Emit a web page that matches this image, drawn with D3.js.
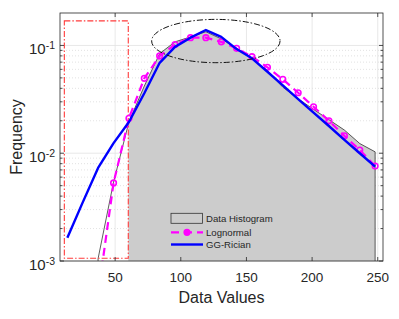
<!DOCTYPE html>
<html>
<head>
<meta charset="utf-8">
<script src="https://cdn.jsdelivr.net/npm/d3@7"></script>
<style>
  body { margin: 0; background: #fff; }
  svg { display: block; font-family: "Liberation Sans", Arial, Helvetica, sans-serif; }
</style>
</head>
<body>
<svg width="399" height="319"></svg>
<script>
// bin centres (Data Values) and frequencies
var bins = [13.6, 25.3, 37.0, 48.8, 60.5, 72.2, 83.9, 95.6, 107.4, 119.1, 130.8,
            142.5, 154.2, 166.0, 177.7, 189.4, 201.1, 212.8, 224.6, 236.3, 248.0];
var histFreq = [null, null, 0.00105, 0.0054, 0.0195, 0.042, 0.084, 0.108, 0.12, 0.134, 0.115,
                0.094, 0.075, 0.058, 0.041, 0.032, 0.0255, 0.0205, 0.0164, 0.0123, 0.0103];
var lognormFreq = [null, null, 0.00049, 0.0053, 0.0211, 0.0495, 0.080, 0.102, 0.118, 0.118, 0.108,
                   0.094, 0.0786, 0.0627, 0.0485, 0.0364, 0.027, 0.020, 0.0145, 0.0107, 0.0076];
var ggRicianFreq = [0.00164, 0.0035, 0.0073, 0.0124, 0.0195, 0.036, 0.069, 0.097, 0.118, 0.139, 0.12,
                    0.0925, 0.076, 0.057, 0.0426, 0.0318, 0.0238, 0.0179, 0.0133, 0.0100, 0.0075];

var xTicks = [50, 100, 150, 200, 250];
var yTicks = [1e-3, 1e-2, 1e-1];
var yTickExp = ["-3", "-2", "-1"];
var legendLabels = ["Data Histogram", "Lognormal", "GG-Rician"];

// annotations: red box (x range, y range) and black ellipse (x range, y range)
var boxX = [11.3, 60.0], boxY = [0.00106, 0.169];
var ellX = [77.8, 175.6], ellY = [0.0692, 0.1745];

var svg = d3.select("svg"),
    margin = {left: 60, right: 16, top: 13, bottom: 58},
    width = +svg.attr("width"),
    height = +svg.attr("height");

var x = d3.scaleLinear().domain([8, 254]).range([margin.left, width - margin.right]);
var y = d3.scaleLog().domain([1e-3, 0.2]).range([height - margin.bottom, margin.top]);

var x0 = x.range()[0], x1 = x.range()[1], yb = y.range()[0], yt = y.range()[1];
var axisColor = "#262626";

svg.append("defs").append("clipPath").attr("id", "plot")
  .append("rect").attr("x", x0).attr("y", yt).attr("width", x1 - x0).attr("height", yb - yt);
svg.append("defs").append("clipPath").attr("id", "fillclip")
  .append("rect").attr("x", x(boxX[1])).attr("y", yt).attr("width", x1 - x(boxX[1])).attr("height", yb - yt);

// minor y values
var minor = [];
[1e-3, 1e-2, 1e-1].forEach(function(d) {
  for (var m = 2; m <= 9; m++) if (m * d < 0.2) minor.push(m * d);
});

// grid
var grid = svg.append("g");
grid.selectAll(".mg").data(minor).enter().append("line")
  .attr("x1", x0).attr("x2", x1)
  .attr("y1", function(d) { return y(d); }).attr("y2", function(d) { return y(d); })
  .attr("stroke", "#cfcfcf").attr("stroke-width", 0.6).attr("stroke-dasharray", "1,2");
grid.selectAll(".gy").data(yTicks).enter().append("line")
  .attr("x1", x0).attr("x2", x1)
  .attr("y1", function(d) { return y(d); }).attr("y2", function(d) { return y(d); })
  .attr("stroke", "#e2e2e2").attr("stroke-width", 0.8);
grid.selectAll(".gx").data(xTicks).enter().append("line")
  .attr("y1", yt).attr("y2", yb)
  .attr("x1", function(d) { return x(d); }).attr("x2", function(d) { return x(d); })
  .attr("stroke", "#e2e2e2").attr("stroke-width", 0.8);

var plot = svg.append("g").attr("clip-path", "url(#plot)");

// histogram area
var histPts = bins.map(function(b, i) { return [b, histFreq[i]]; })
  .filter(function(d) { return d[1] != null; });
var area = d3.area()
  .x(function(d) { return x(d[0]); })
  .y0(yb + 5)
  .y1(function(d) { return y(d[1]); });
plot.append("path").datum(histPts)
  .attr("clip-path", "url(#fillclip)")
  .attr("d", area).attr("fill", "#cccccc");

var line = d3.line()
  .x(function(d) { return x(d[0]); })
  .y(function(d) { return y(d[1]); });

var first = histPts[0], last = histPts[histPts.length - 1];
plot.append("path")
  .attr("d", "M" + x(first[0]) + "," + (yb + 5) + "L" + line(histPts).slice(1) +
       "L" + x(last[0]) + "," + (yb + 5))
  .attr("fill", "none").attr("stroke", "#333").attr("stroke-width", 0.8);

// red dash-dot box
plot.append("rect")
  .attr("x", x(boxX[0])).attr("y", y(boxY[1]))
  .attr("width", x(boxX[1]) - x(boxX[0])).attr("height", y(boxY[0]) - y(boxY[1]))
  .attr("fill", "none").attr("stroke", "#ff3b3b").attr("stroke-width", 1.1)
  .attr("stroke-dasharray", "6,2,1.5,2");

// lognormal
var lnPts = bins.map(function(b, i) { return [b, lognormFreq[i]]; })
  .filter(function(d) { return d[1] != null; });
plot.append("path").datum(lnPts)
  .attr("d", line).attr("fill", "none")
  .attr("stroke", "#ff00ff").attr("stroke-width", 2.2).attr("stroke-dasharray", "8,5");
plot.selectAll(".ln").data(lnPts).enter().append("circle")
  .attr("cx", function(d) { return x(d[0]); })
  .attr("cy", function(d) { return y(d[1]); })
  .attr("r", 2.8)
  .attr("fill", "none").attr("stroke", "#ff00ff").attr("stroke-width", 1.6);

// GG-Rician
var ggPts = bins.map(function(b, i) { return [b, ggRicianFreq[i]]; });
plot.append("path").datum(ggPts)
  .attr("d", line).attr("fill", "none")
  .attr("stroke", "#0000ff").attr("stroke-width", 2.4).attr("stroke-linejoin", "round");

// black dash-dot ellipse
plot.append("ellipse")
  .attr("cx", (x(ellX[0]) + x(ellX[1])) / 2)
  .attr("cy", (y(ellY[0]) + y(ellY[1])) / 2)
  .attr("rx", (x(ellX[1]) - x(ellX[0])) / 2)
  .attr("ry", (y(ellY[0]) - y(ellY[1])) / 2)
  .attr("fill", "none").attr("stroke", "#111").attr("stroke-width", 1)
  .attr("stroke-dasharray", "6,2,1.5,2");

// axes box and ticks
var ax = svg.append("g").attr("stroke", axisColor).attr("stroke-width", 0.8);
ax.append("rect").attr("x", x0).attr("y", yt).attr("width", x1 - x0).attr("height", yb - yt)
  .attr("fill", "none");
xTicks.forEach(function(t) {
  ax.append("line").attr("x1", x(t)).attr("x2", x(t)).attr("y1", yb).attr("y2", yb - 4);
  ax.append("line").attr("x1", x(t)).attr("x2", x(t)).attr("y1", yt).attr("y2", yt + 4);
});
yTicks.forEach(function(t) {
  ax.append("line").attr("x1", x0).attr("x2", x0 + 4).attr("y1", y(t)).attr("y2", y(t));
  ax.append("line").attr("x1", x1).attr("x2", x1 - 4).attr("y1", y(t)).attr("y2", y(t));
});
minor.forEach(function(t) {
  ax.append("line").attr("x1", x0).attr("x2", x0 + 2.5).attr("y1", y(t)).attr("y2", y(t));
  ax.append("line").attr("x1", x1).attr("x2", x1 - 2.5).attr("y1", y(t)).attr("y2", y(t));
});

// tick labels
svg.selectAll(".xl").data(xTicks).enter().append("text")
  .attr("x", function(d) { return x(d); }).attr("y", yb + 21)
  .attr("text-anchor", "middle").attr("font-size", 13.5).attr("fill", axisColor)
  .text(function(d) { return d; });

yTicks.forEach(function(t, i) {
  var tx = svg.append("text").attr("x", x0 - 5).attr("y", y(t) + 9)
    .attr("text-anchor", "end").attr("fill", axisColor);
  tx.append("tspan").attr("font-size", 15).text("10");
  tx.append("tspan").attr("font-size", 10.5).attr("dy", -5).text(yTickExp[i]);
});

// axis titles
svg.append("text").attr("x", (x0 + x1) / 2).attr("y", 303)
  .attr("text-anchor", "middle").attr("font-size", 16).attr("fill", axisColor)
  .text("Data Values");
svg.append("text")
  .attr("transform", "translate(22," + ((yt + yb) / 2) + ") rotate(-90)")
  .attr("text-anchor", "middle").attr("font-size", 16).attr("fill", axisColor)
  .text("Frequency");

// legend
var lg = svg.append("g").attr("transform", "translate(171,0)");
var rows = [218.3, 232.3, 244.5];
lg.append("rect").attr("x", 0).attr("y", rows[0] - 5).attr("width", 31.5).attr("height", 10)
  .attr("fill", "#cccccc").attr("stroke", "#333").attr("stroke-width", 0.8);
lg.append("line").attr("x1", 0).attr("x2", 32).attr("y1", rows[1]).attr("y2", rows[1])
  .attr("stroke", "#ff00ff").attr("stroke-width", 2.2).attr("stroke-dasharray", "8,5");
lg.append("circle").attr("cx", 16).attr("cy", rows[1]).attr("r", 2.8)
  .attr("fill", "#ff00ff").attr("stroke", "#ff00ff").attr("stroke-width", 1.6);
lg.append("line").attr("x1", 0).attr("x2", 32).attr("y1", rows[2]).attr("y2", rows[2])
  .attr("stroke", "#0000ff").attr("stroke-width", 2.4);
lg.selectAll(".lt").data(legendLabels).enter().append("text")
  .attr("x", 35).attr("y", function(d, i) { return rows[i] + 3.5; })
  .attr("font-size", 9.6).attr("fill", axisColor)
  .text(function(d) { return d; });
</script>
</body>
</html>
